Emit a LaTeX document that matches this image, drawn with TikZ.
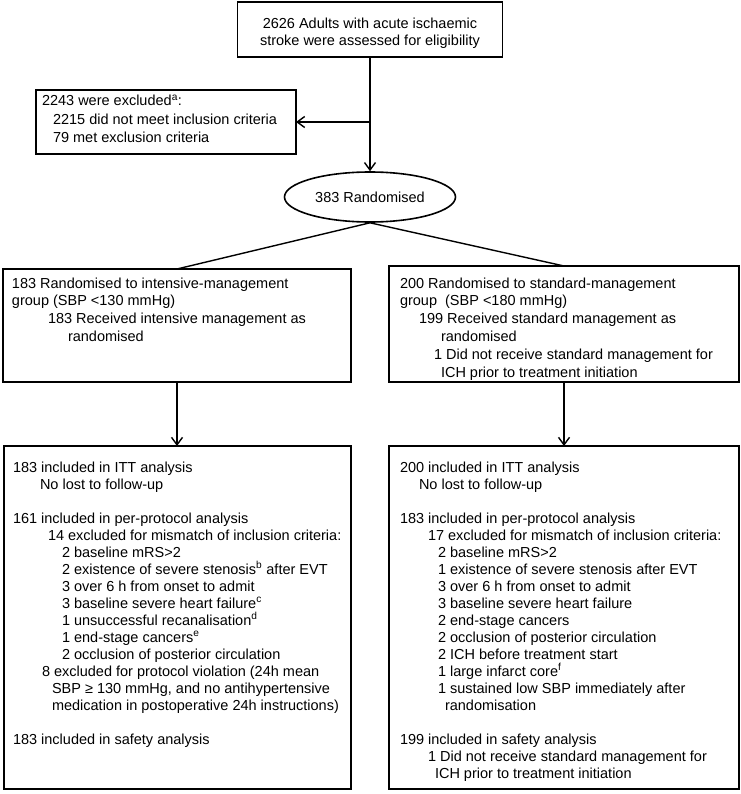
\documentclass[tikz,border=0pt]{standalone}
\usepackage{fontspec}
\setmainfont{Liberation Sans}
\usetikzlibrary{arrows.meta,shapes.geometric}
\newcommand{\Ind}[2]{\hspace*{#1pt}#2}
\newcommand{\Sup}[1]{\textsuperscript{#1}}
\begin{document}
\begin{tikzpicture}[x=1pt,y=-1pt,
  boxx/.style={draw, line width=1.8pt, inner sep=0pt, outer sep=0pt, anchor=north west},
  txt/.style={inner sep=0pt, outer sep=0pt, anchor=north west, align=left, font=\fontsize{14.5}{17}\selectfont},
  txtmid/.style={txt, font=\fontsize{14.5}{17.8}\selectfont},
  conn/.style={line width=1.4pt},
  arr/.style={conn, -{Straight Barb[length=7.5pt,width=11pt,line width=1.4pt]}}]
\useasboundingbox (0,0) rectangle (740,794);
\fill[white] (0,0) rectangle (740,794);

% boxes
\node[boxx, minimum width=265pt, minimum height=55pt] (top) at (237.5,2) {};
\node[boxx, minimum width=260pt, minimum height=64pt] (excl) at (36,90) {};
\node[draw, ellipse, line width=1.6pt, inner sep=0pt, minimum width=171pt, minimum height=50pt,
      font=\fontsize{14.5}{17}\selectfont] (rand) at (370,197) {383 Randomised};
\node[boxx, minimum width=348pt, minimum height=113pt] (lm) at (3,269) {};
\node[boxx, minimum width=350pt, minimum height=116pt] (rm) at (389,266) {};
\node[boxx, minimum width=347pt, minimum height=343pt] (lb) at (4,446) {};
\node[boxx, minimum width=350pt, minimum height=343pt] (rb) at (389,446) {};

% texts
\node[txt, anchor=north, align=center] (ttop) at (370,17)
  {\rule{0pt}{12pt}2626 Adults with acute ischaemic\\stroke were assessed for eligibility};
\node[txt, font=\fontsize{14.5}{18.5}\selectfont] (texcl) at (42,94)
  {\rule{0pt}{12pt}2243 were excluded\Sup{a}:\\
   \Ind{11}{2215 did not meet inclusion criteria}\\
   \Ind{11}{79 met exclusion criteria}};
\node[txtmid] (tlm) at (12,276)
  {\rule{0pt}{12pt}183 Randomised to intensive-management\\
   group (SBP <130 mmHg)\\
   \Ind{36}{183 Received intensive management as}\\
   \Ind{56}{randomised}};
\node[txtmid] (trm) at (400,276)
  {\rule{0pt}{12pt}200 Randomised to standard-management\\
   group\ \ (SBP <180 mmHg)\\
   \Ind{19}{199 Received standard management as}\\
   \Ind{41}{randomised}\\
   \Ind{34}{1 Did not receive standard management for}\\
   \Ind{41}{ICH prior to treatment initiation}};
\node[txt] (tlb) at (13,460)
  {\rule{0pt}{12pt}183 included in ITT analysis\\
   \Ind{27}{No lost to follow-up}\\[17pt]
   161 included in per-protocol analysis\\
   \Ind{35}{14 excluded for mismatch of inclusion criteria:}\\
   \Ind{49}{2 baseline mRS>2}\\
   \Ind{49}{2 existence of severe stenosis\Sup{b} after EVT}\\
   \Ind{49}{3 over 6 h from onset to admit}\\
   \Ind{49}{3 baseline severe heart failure\Sup{c}}\\
   \Ind{49}{1 unsuccessful recanalisation\Sup{d}}\\
   \Ind{49}{1 end-stage cancers\Sup{e}}\\
   \Ind{49}{2 occlusion of posterior circulation}\\
   \Ind{29}{8 excluded for protocol violation (24h mean}\\
   \Ind{39}{SBP ≥ 130 mmHg, and no antihypertensive}\\
   \Ind{39}{medication in postoperative 24h instructions)}\\[17pt]
   183 included in safety analysis};
\node[txt] (trb) at (400,460)
  {\rule{0pt}{12pt}200 included in ITT analysis\\
   \Ind{19}{No lost to follow-up}\\[17pt]
   183 included in per-protocol analysis\\
   \Ind{28}{17 excluded for mismatch of inclusion criteria:}\\
   \Ind{38}{2 baseline mRS>2}\\
   \Ind{38}{1 existence of severe stenosis after EVT}\\
   \Ind{38}{3 over 6 h from onset to admit}\\
   \Ind{38}{3 baseline severe heart failure}\\
   \Ind{38}{2 end-stage cancers}\\
   \Ind{38}{2 occlusion of posterior circulation}\\
   \Ind{38}{2 ICH before treatment start}\\
   \Ind{38}{1 large infarct core\Sup{f}}\\
   \Ind{38}{1 sustained low SBP immediately after}\\
   \Ind{45}{randomisation}\\[17pt]
   199 included in safety analysis\\
   \Ind{28}{1 Did not receive standard management for}\\
   \Ind{35}{ICH prior to treatment initiation}};

% connectors
\draw[arr] (top.south) -- (rand.north);
\coordinate (jn) at (top.south |- excl.east);
\draw[arr] (jn) -- (excl.east);
\draw[conn] (rand.south) -- (lm.north);
\draw[conn] (rand.south) -- (rm.north);
\draw[arr] (lm.south) -- (lm.south |- lb.north);
\draw[arr] (rm.south) -- (rm.south |- rb.north);
\end{tikzpicture}
\end{document}
